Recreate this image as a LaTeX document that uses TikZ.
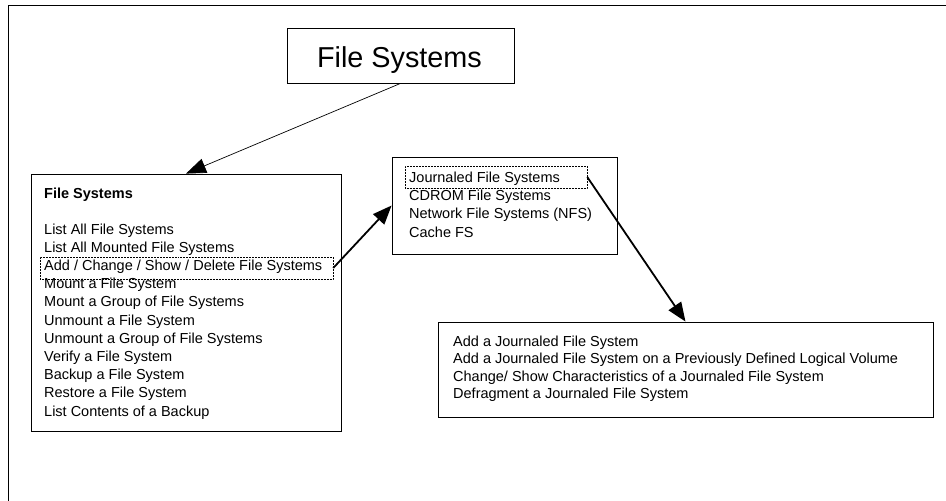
\documentclass[tikz,border=0pt]{standalone}
\usepackage{fontspec}
\setmainfont{Liberation Sans}
\usetikzlibrary{arrows.meta}
\begin{document}
\begin{tikzpicture}[x=1pt,y=-1pt,
  box/.style={draw=black,line width=0.8pt,inner sep=0pt},
  dotbox/.style={draw=black,line width=0.5pt,densely dotted,inner sep=0pt},
  item/.style={anchor=base west,inner sep=0pt,font=\fontsize{14.5}{17}\selectfont},
  thinarrow/.style={line width=0.7pt,-{Triangle[length=20pt,width=15pt]}},
  thickarrow/.style={line width=1.8pt,-{Triangle[length=19pt,width=15pt]}}
]
\useasboundingbox (0,0) rectangle (946,501);
% outer frame (open)
\draw[line width=0.8pt] (8.5,501) -- (8.5,5) -- (946,5);

% title
\node[box,minimum width=227pt,minimum height=55pt] (title) at (400.5,55.5) {};
\node[anchor=base,inner sep=0pt,font=\fontsize{28.8}{34}\selectfont] (titletext) at (399.5,67) {File Systems};

% left box
\node[box,minimum width=310pt,minimum height=257pt] (left) at (186,302.5) {};
\node[item,font=\fontsize{14.5}{17}\selectfont\bfseries] (lhead) at (44,198) {File Systems};
\node[item] (l1) at (44,234.1) {List All File Systems};
\node[item] (l2) at (44,252.3) {List All Mounted File Systems};
\node[item] (l3) at (44,270.5) {Add / Change / Show / Delete File Systems};
\node[item] (l4) at (44,288.7) {Mount a File System};
\node[item] (l5) at (44,306.9) {Mount a Group of File Systems};
\node[item] (l6) at (44,325.1) {Unmount a File System};
\node[item] (l7) at (44,343.3) {Unmount a Group of File Systems};
\node[item] (l8) at (44,361.5) {Verify a File System};
\node[item] (l9) at (44,379.7) {Backup a File System};
\node[item] (l10) at (44,397.9) {Restore a File System};
\node[item] (l11) at (44,416.1) {List Contents of a Backup};
\node[dotbox,minimum width=293pt,minimum height=22pt] (adddot) at (186.5,268) {};

% middle box
\node[box,minimum width=225pt,minimum height=97pt] (mid) at (504.5,205.5) {};
\node[item] (m1) at (409,182.1) {Journaled File Systems};
\node[item] (m2) at (409,200.4) {CDROM File Systems};
\node[item] (m3) at (409,218.7) {Network File Systems (NFS)};
\node[item] (m4) at (409,237) {Cache FS};
\node[dotbox,minimum width=182pt,minimum height=22pt] (jdot) at (496,177) {};

% bottom box
\node[box,minimum width=495pt,minimum height=95pt] (bot) at (685.5,369.5) {};
\node[item] (b1) at (453,346) {Add a Journaled File System};
\node[item] (b2) at (453,363.5) {Add a Journaled File System on a Previously Defined Logical Volume};
\node[item] (b3) at (453,381) {Change/ Show Characteristics of a Journaled File System};
\node[item] (b4) at (453,398.5) {Defragment a Journaled File System};

% connectors
\draw[thinarrow] (title.south) -- (left.north);
\draw[thickarrow] (adddot.east) -- (mid.west);
\draw[thickarrow] (jdot.east) -- (bot.north);
\end{tikzpicture}
\end{document}
